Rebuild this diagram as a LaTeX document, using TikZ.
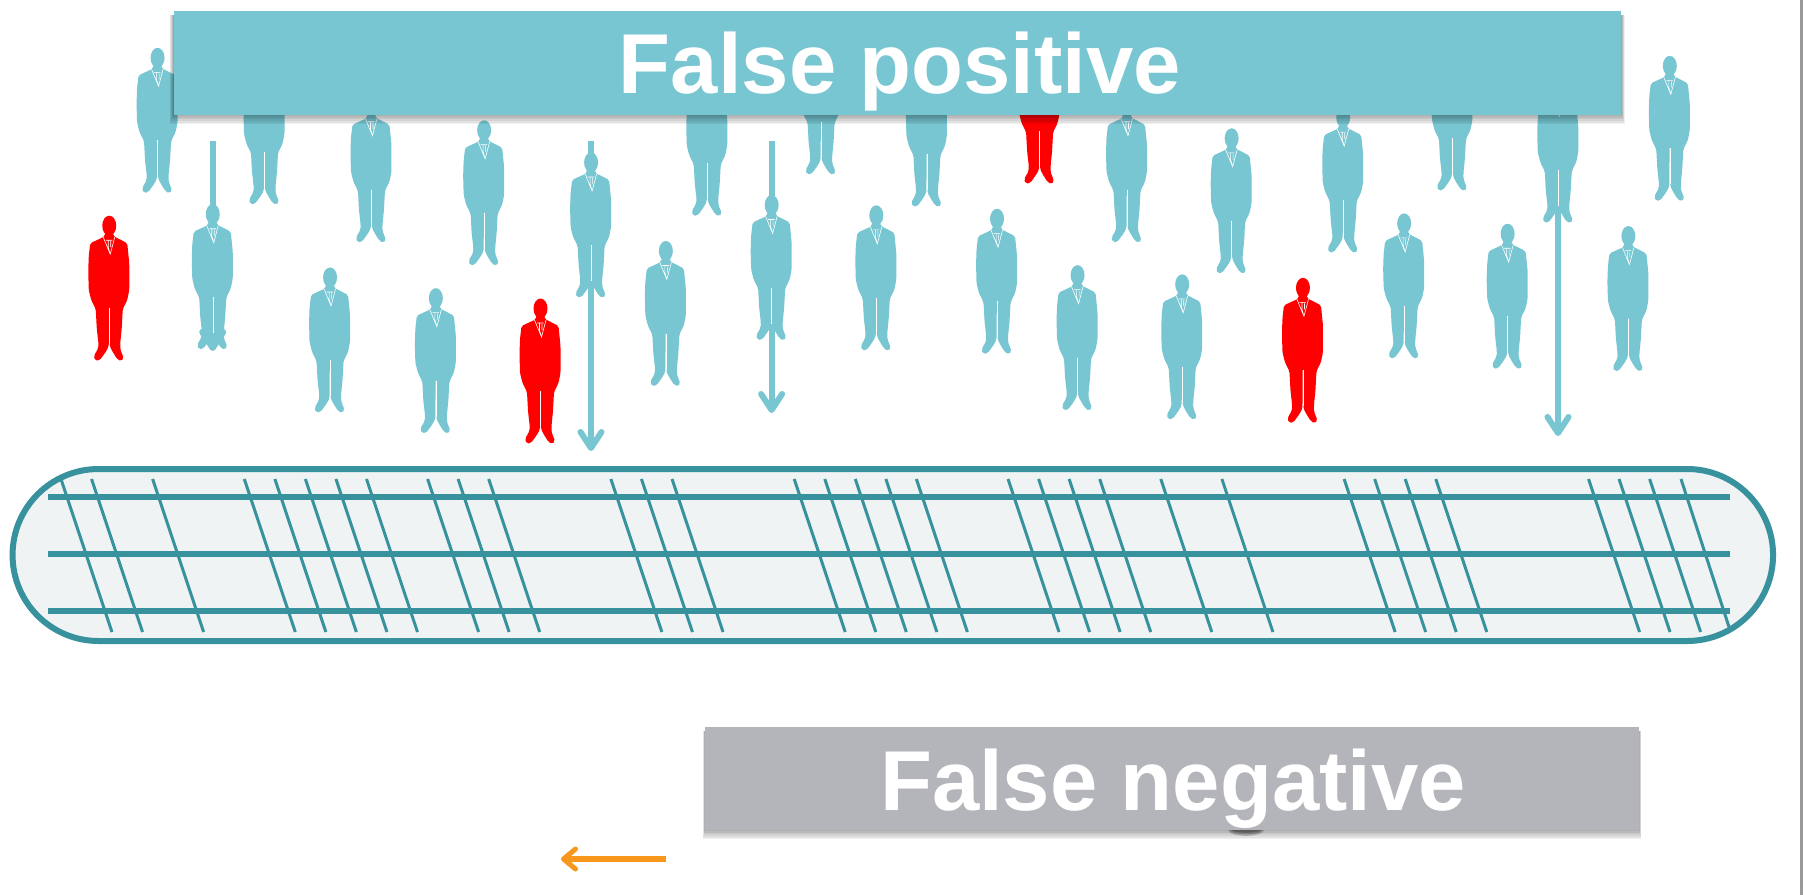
\documentclass[tikz,border=0pt]{standalone}
\usepackage{fontspec}
\setmainfont{Liberation Sans}
\usetikzlibrary{arrows.meta}
\definecolor{teal1}{HTML}{78C6D2}
\definecolor{teal2}{HTML}{38929E}
\definecolor{capfill}{HTML}{EFF3F4}
\definecolor{gray1}{HTML}{B4B5BA}
\definecolor{orange1}{HTML}{F7981D}
\tikzset{
  x=1pt,y=-1pt,
  pics/man/.style={code={
    \fill[#1] (0,9.5) ellipse[x radius=7,y radius=10];
    \fill[#1,rounded corners=1.8pt] (-4,15) -- (-4.5,20) -- (-6,21) -- (-19,27) -- (-20.5,40) -- (-21,55) -- (-20.5,74) -- (-18,84) -- (-13.5,93) -- (-12.5,112) -- (-10.8,127) -- (-11,132) -- (-15.5,140) -- (-14,144.5) -- (-9.5,144) -- (-3,135) -- (-0.5,130) -- (-0.2,90) -- (0.2,90) -- (0.5,130) -- (3,135) -- (8,143) -- (12,145) -- (14.5,142) -- (11,133) -- (11,127) -- (12.5,112) -- (13.5,93) -- (18,84) -- (20,74) -- (20,47) -- (18,27) -- (6.4,21) -- (4,20) -- (4,15) -- cycle;
    \draw[white,line width=.4pt] (0,92) -- (0,128);
    \draw[white,line width=.6pt] (-6,21) -- (1,38) -- (5.5,21) (-3.5,24) -- (3,24) (-1,24) -- (-1,31) -- (0.5,36) (1.5,25) -- (1.5,31);
  }},
  hbar/.style={draw=teal2,line width=6.5pt},
  tick/.style={draw=teal2,line width=3pt},
  box/.style={inner sep=0pt,outer sep=0pt},
  caption/.style={text=white,inner sep=0pt,anchor=base,font=\fontsize{85}{85}\selectfont\bfseries},
  fall/.style={draw=#1,line width=6pt,-{Straight Barb[round,length=16pt,width=21pt,line width=6pt]}},
}
\begin{document}
\begin{tikzpicture}
\useasboundingbox (0,0) rectangle (1803,895);
\fill[white] (0,0) rectangle (1803,895);
\fill[gray!80] (1800,0) rectangle (1803,895);
% capsule
\node[box,draw=teal2,fill=capfill,line width=6pt,rounded corners=86pt,minimum width=1760.5pt,minimum height=172pt] (capsule) at (892.8,555) {};
\foreach \k in {0,1,3,6,7,8,9,10,12,13,14,18,19,20,24,25,26,27,28,31,32,33,34,36,38,42,43,44,45,50,51,52}{
  \draw[tick] ({61+\k*30.55},479) -- ({112+\k*30.55},632);
}
\draw[tick] (1681,479) -- (1729,627);
\coordinate (la) at (48,497); \coordinate (lb) at (1730,497);
\coordinate (lc) at (48,554); \coordinate (ld) at (1730,554);
\coordinate (le) at (48,611); \coordinate (lf) at (1730,611);
\draw[hbar] (la) -- (lb); \draw[hbar] (lc) -- (ld); \draw[hbar] (le) -- (lf);
% arrows
\coordinate (a1s) at (212.7,141); \coordinate (a1e) at (212.7,351);
\coordinate (a2s) at (591,141);   \coordinate (a2e) at (591,451);
\coordinate (a3s) at (771.6,141); \coordinate (a3e) at (771.6,413);
\coordinate (a4s) at (1558,125);  \coordinate (a4e) at (1558,436);
\coordinate (a5s) at (666,859);   \coordinate (a5e) at (561,859);
\draw[fall=teal1] (a1s) -- (a1e);
\draw[fall=teal1] (a2s) -- (a2e);
\draw[fall=teal1] (a3s) -- (a3e);
\draw[fall=teal1] (a4s) -- (a4e);
\draw[draw=orange1,line width=5.5pt,-{Straight Barb[round,length=12pt,width=20pt,line width=5pt]}] (a5s) -- (a5e);
% people
\foreach \x/\y in {137/42,230/52,323/85,421/105,514/133,615/62,714/26,806/54,980/85,1071/112,1168/94,1263/40,1355/68,1452/49,185/178,287/233,379/251,579/210,671/170,762/179,867/182,937/231,1028/239,1221/186,1311/195,1416/197}{
  \pic at ({\x*1.15},{\y*1.15}) {man=teal1};
}
\foreach \x/\y in {904/34,95/188,470/260,1133/242}{
  \pic at ({\x*1.15},{\y*1.15}) {man=red};
}
% shadows
\foreach \i in {1,...,7}{
  \fill[black,opacity=.06] ({174-\i*.6},{15}) rectangle ({1621+\i*.5},{113+\i*1.6});
  \fill[black,opacity=.06] ({705-\i*.3},{731}) rectangle ({1639+\i*.3},{828+\i*1.6});
}
\foreach \i in {2,4,6}{
  \fill[black,opacity=.2] (1246,830) ellipse[x radius={12+\i},y radius={1+\i*.8}];
}
% banners
\node[box,fill=teal1,minimum width=1447pt,minimum height=104pt] (fp) at (897.5,63) {};
\node[caption] (fpt) at (900,93.5) {False positive};
\node[box,fill=gray1,minimum width=934pt,minimum height=103pt] (fn) at (1172,778.5) {};
\node[caption] (fnt) at (1173,810) {False negative};
\end{tikzpicture}
\end{document}
